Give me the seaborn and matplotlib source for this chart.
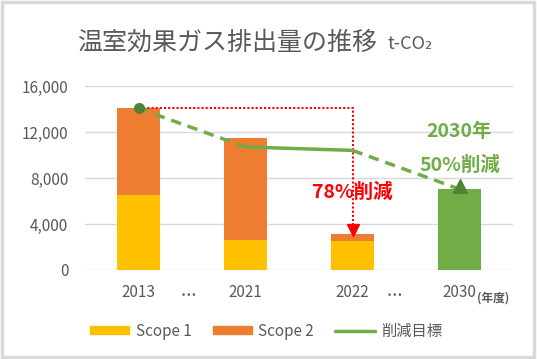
import matplotlib
matplotlib.use("Agg")
import matplotlib.pyplot as plt
import seaborn as sns
from matplotlib.patches import Patch, Rectangle
from matplotlib.lines import Line2D
from matplotlib.ticker import FuncFormatter

years = ["2013", "2021", "2022", "2030"]
scope1 = [6500, 2600, 2550, 0]
scope2 = [7560, 8900, 540, 0]
target_2030 = [0, 0, 0, 7030]
goal = [14060, 10700, 10400, 7030]
y_ticks = [0, 4000, 8000, 12000, 16000]

yellow = "#FFC000"
orange = "#ED7D31"
green = "#70AD47"
dark_green = "#548235"
grey_text = "#595959"

sns.set_theme(style="whitegrid")
plt.rcParams['font.family'] = ['Noto Sans CJK JP', 'DejaVu Sans']

fig = plt.figure(figsize=(5.37, 3.59), dpi=100)
ax = fig.add_axes([85 / 537, 1 - 270 / 359, 428 / 537, 184 / 359])

totals = [a + b + c for a, b, c in zip(scope1, scope2, target_2030)]
bar_colors = [orange, orange, orange, green]
sns.barplot(x=years, y=totals, hue=years, palette=bar_colors, legend=False,
            width=0.4, saturation=1, linewidth=0, ax=ax)
sns.barplot(x=years, y=scope1, color=yellow, width=0.4, saturation=1,
            linewidth=0, ax=ax)

# target line: dashed / solid / dashed
xs = list(range(len(years)))
ax.plot(xs[0:2], goal[0:2], color=green, lw=2.5, ls=(0, (3, 2)), zorder=4)
ax.plot(xs[1:3], goal[1:3], color=green, lw=2.5, zorder=4)
ax.plot(xs[2:4], goal[2:4], color=green, lw=2.5, ls=(0, (3, 2)), zorder=4)
ax.plot(xs[0], goal[0], 'o', color=dark_green, ms=7, zorder=5)
ax.plot(xs[3], goal[3] + 250, '^', color=dark_green, ms=10, zorder=5)

# red dotted reduction arrow
ax.plot([0, 2, 2], [goal[0], goal[0], totals[2] + 450], color="#FF0000",
        lw=1.5, ls=(0, (1, 1)), zorder=3)
ax.plot(2, totals[2] + 400, 'v', color="#FF0000", ms=8, zorder=5)

ax.text(2, 6750, "78%削減", color="#FF0000", fontsize=14, fontweight='bold',
        ha='center', va='center')
ax.text(3, 12050, "2030年", color=green, fontsize=14, fontweight='bold',
        ha='center', va='center')
ax.text(3, 9100, "50%削減", color=green, fontsize=14, fontweight='bold',
        ha='center', va='center')

ax.set_xlim(-0.5, 3.5)
ax.set_ylim(0, 16000)
ax.set_yticks(y_ticks)
ax.yaxis.set_major_formatter(FuncFormatter(lambda v, p: f"{int(v):,}"))
ax.set_xlabel("")
ax.set_ylabel("")
ax.grid(axis='x', visible=False)
ax.grid(axis='y', color="#D9D9D9", lw=1)
for s in ax.spines.values():
    s.set_visible(False)
ax.set_facecolor("white")
ax.tick_params(axis='both', length=0, labelsize=11, labelcolor=grey_text)
ax.tick_params(axis='x', pad=10)
ax.tick_params(axis='y', pad=12)
ax.set_axisbelow(True)

# ellipses between non-consecutive years
ax.text(0.47, -0.14, "…", transform=ax.get_xaxis_transform(), ha='center',
        va='center', fontsize=11, color=grey_text, fontweight='bold')
ax.text(2.39, -0.14, "…", transform=ax.get_xaxis_transform(), ha='center',
        va='center', fontsize=11, color=grey_text, fontweight='bold')
fig.text(493 / 537, 1 - 298 / 359, "(年度)", ha='center', va='center',
         fontsize=8.5, color=grey_text, fontweight='bold')

fig.text(77 / 537, 1 - 43 / 359, "温室効果ガス排出量の推移", ha='left', va='center',
         fontsize=18, color=grey_text)
fig.text(388 / 537, 1 - 44 / 359, "t-CO₂", ha='left', va='center',
         fontsize=13, color=grey_text)

handles = [Patch(color=yellow, label="Scope 1"),
           Patch(color=orange, label="Scope 2"),
           Line2D([0], [0], color=green, lw=2.5, label="削減目標")]
fig.legend(handles=handles, loc='center', bbox_to_anchor=(266 / 537, 1 - 331 / 359),
           ncol=3, frameon=False, fontsize=11, labelcolor=grey_text,
           handlelength=2.6, handleheight=0.5, columnspacing=1.4, handletextpad=0.4)

fig.patches.append(Rectangle((2 / 537, 2 / 359), 532 / 537, 355 / 359,
                             transform=fig.transFigure, fill=False,
                             edgecolor="#D9D9D9", lw=2.5))

fig.savefig("out.png", dpi=100, facecolor="white")
